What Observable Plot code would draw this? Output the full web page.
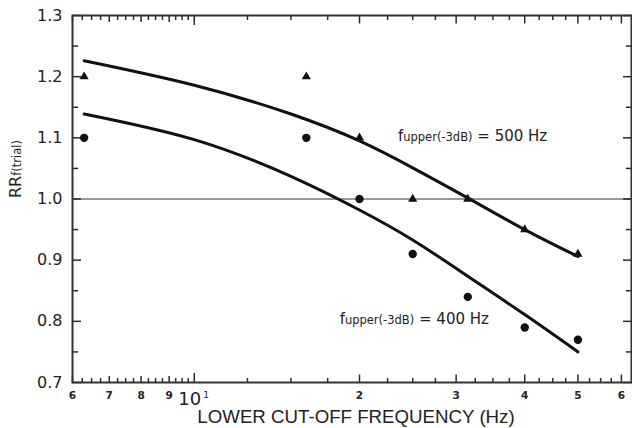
<!DOCTYPE html>
<html><head><meta charset="utf-8">
<script src="https://cdn.jsdelivr.net/npm/d3@7"></script>
<script src="https://cdn.jsdelivr.net/npm/@observablehq/plot@0.6"></script>
<style>body{margin:0;background:#fff;} svg{display:block;}</style>
</head><body><div id="chart"></div>
<script>
// measured points
const freqs = [6.3, 16, 20, 25, 31.5, 40, 50];
const rr500 = [1.2, 1.2, 1.1, 1.0, 1.0, 0.95, 0.91];
const rr400 = [1.1, 1.1, 1.0, 0.91, 0.84, 0.79, 0.77];
// fitted curves
const fitFreqs = [6.3, 10, 15, 20, 25, 31.6, 40, 50];
const fit500 = [1.226, 1.186, 1.139, 1.095, 1.051, 1.001, 0.950, 0.906];
const fit400 = [1.139, 1.097, 1.037, 0.982, 0.933, 0.873, 0.811, 0.750];
// ticks
const xTicksMinor = [6.25,6.5,6.75,7.25,7.5,7.75,8.25,8.5,8.75,9.25,9.5,9.75,
  12.5,15,17.5,22.5,25,27.5,32.5,35,37.5,42.5,45,47.5,52.5,55,57.5];
const xTicksMid = [6,7,8,9];
const xTicksMajor = [20,30,40,50,60];
const xTickDecade = [10];
const xLabelTicks = [6,7,8,9,20,30,40,50,60];
const xLabelText = ["6","7","8","9","2","3","4","5","6"];
const yTicksMajor = [0.7,0.8,0.9,1.0,1.1,1.2,1.3];
const yTicksMinor = [0.75,0.85,0.95,1.05,1.15,1.25];
const refLine = [1.0];

const pts500 = freqs.map((f,i)=>({f, v: rr500[i]}));
const pts400 = freqs.map((f,i)=>({f, v: rr400[i]}));
const curve500 = fitFreqs.map((f,i)=>({f, v: fit500[i]}));
const curve400 = fitFreqs.map((f,i)=>({f, v: fit400[i]}));

const ink = "#222";
const dirs = {bottom: [0, -1], top: [0, 1], left: [1, 0], right: [-1, 0]};
const tickSymbol = (len, side) => ({draw(ctx) {
  const [ux, uy] = dirs[side];
  ctx.moveTo(0, 0); ctx.lineTo(ux * len, uy * len);
}});
const tk = {fill: "none", stroke: "#2a2a2a", strokeWidth: 1.5, r: 3};
const xTicks = (data, len, side) => Plot.dot(data, {x: d => d, frameAnchor: side,
  symbol: tickSymbol(len, side), ...tk});
const yTicks = (data, len, side) => Plot.dot(data, {y: d => d, frameAnchor: side,
  symbol: tickSymbol(len, side), ...tk});

const plot = Plot.plot({
  width: 632, height: 428,
  marginLeft: 72, marginRight: 1, marginTop: 15, marginBottom: 46,
  x: {type: "log", domain: [6, 62.6], axis: null},
  y: {domain: [0.7, 1.3], axis: null},
  style: {fontFamily: "DejaVu Sans", color: ink, background: "#fff"},
  marks: [
    Plot.ruleY(refLine, {stroke: "#777", strokeWidth: 1.3}),
    xTicks(xTicksMinor, 4.5, "bottom"), xTicks(xTicksMid, 6.5, "bottom"),
    xTicks(xTicksMajor, 8, "bottom"), xTicks(xTickDecade, 9.5, "bottom"),
    xTicks(xTicksMinor, 4.5, "top"), xTicks(xTicksMid, 6.5, "top"),
    xTicks(xTicksMajor, 8, "top"), xTicks(xTickDecade, 9.5, "top"),
    yTicks(yTicksMajor, 8.5, "left"), yTicks(yTicksMinor, 5.5, "left"),
    yTicks(yTicksMajor, 8.5, "right"), yTicks(yTicksMinor, 5.5, "right"),
    // tick labels
    Plot.text(yTicksMajor, {y: d => d, frameAnchor: "left", text: d => d.toFixed(1), dx: -10,
      textAnchor: "end", lineAnchor: "middle", fontSize: 16, fill: ink, style: "letter-spacing:0.8px"}),
    Plot.text(xLabelTicks, {x: d => d, frameAnchor: "bottom", text: (d, i) => xLabelText[i], dy: 13.5,
      lineAnchor: "middle", fontSize: 10.5, fontWeight: "bold", fill: ink}),
    Plot.text(xTickDecade, {x: d => d, frameAnchor: "bottom", text: () => "10", dy: 16.5, dx: 7,
      textAnchor: "end", lineAnchor: "middle", fontSize: 18, fill: ink}),
    Plot.text(xTickDecade, {x: d => d, frameAnchor: "bottom", text: () => "1", dy: 13, dx: 9,
      textAnchor: "start", lineAnchor: "middle", fontSize: 9, fill: ink}),
    Plot.text(["LOWER CUT-OFF FREQUENCY (Hz)"], {frameAnchor: "bottom", dy: 34.7, dx: 4,
      lineAnchor: "middle", fontSize: 18.7, fontFamily: "Liberation Sans", fill: ink}),
    Plot.text(["RRf(trial)"], {frameAnchor: "left", dx: -57, dy: -1, rotate: -90,
      lineAnchor: "middle", fontSize: 16, fill: ink}),
    // curves
    Plot.line(curve500, {x: "f", y: "v", curve: "natural", stroke: "#111", strokeWidth: 3}),
    Plot.line(curve400, {x: "f", y: "v", curve: "natural", stroke: "#111", strokeWidth: 3}),
    // points
    Plot.dot(pts500, {x: "f", y: "v", symbol: "triangle", r: 3.4, fill: "#111", stroke: null}),
    Plot.dot(pts400, {x: "f", y: "v", symbol: "circle", r: 4.2, fill: "#111", stroke: null}),
    // annotations
    Plot.text(["fupper(-3dB) = 500 Hz"], {x: 23.5, y: 1.103, textAnchor: "start",
      lineAnchor: "middle", fontSize: 15, fill: ink}),
    Plot.text(["fupper(-3dB) = 400 Hz"], {x: 18.4, y: 0.803, textAnchor: "start",
      lineAnchor: "middle", fontSize: 15, fill: ink}),
    Plot.frame({stroke: "#333", strokeWidth: 2})
  ]
});

plot.querySelectorAll("text").forEach(t => {
  const s = t.textContent;
  const m = s.match(/^f(upper\(-3dB\)) (= \d+ Hz)$/);
  if (m) {
    t.textContent = "f";
    const a = document.createElementNS("http://www.w3.org/2000/svg", "tspan");
    a.setAttribute("font-size", "11.5"); a.textContent = m[1];
    const b = document.createElementNS("http://www.w3.org/2000/svg", "tspan");
    b.textContent = " " + m[2];
    t.appendChild(a); t.appendChild(b);
  }
  if (s === "RRf(trial)") {
    t.textContent = "RR";
    const a = document.createElementNS("http://www.w3.org/2000/svg", "tspan");
    a.setAttribute("font-size", "11.5"); a.textContent = "f(trial)";
    t.appendChild(a);
  }
});
document.getElementById("chart").appendChild(plot);
</script>
</body></html>
